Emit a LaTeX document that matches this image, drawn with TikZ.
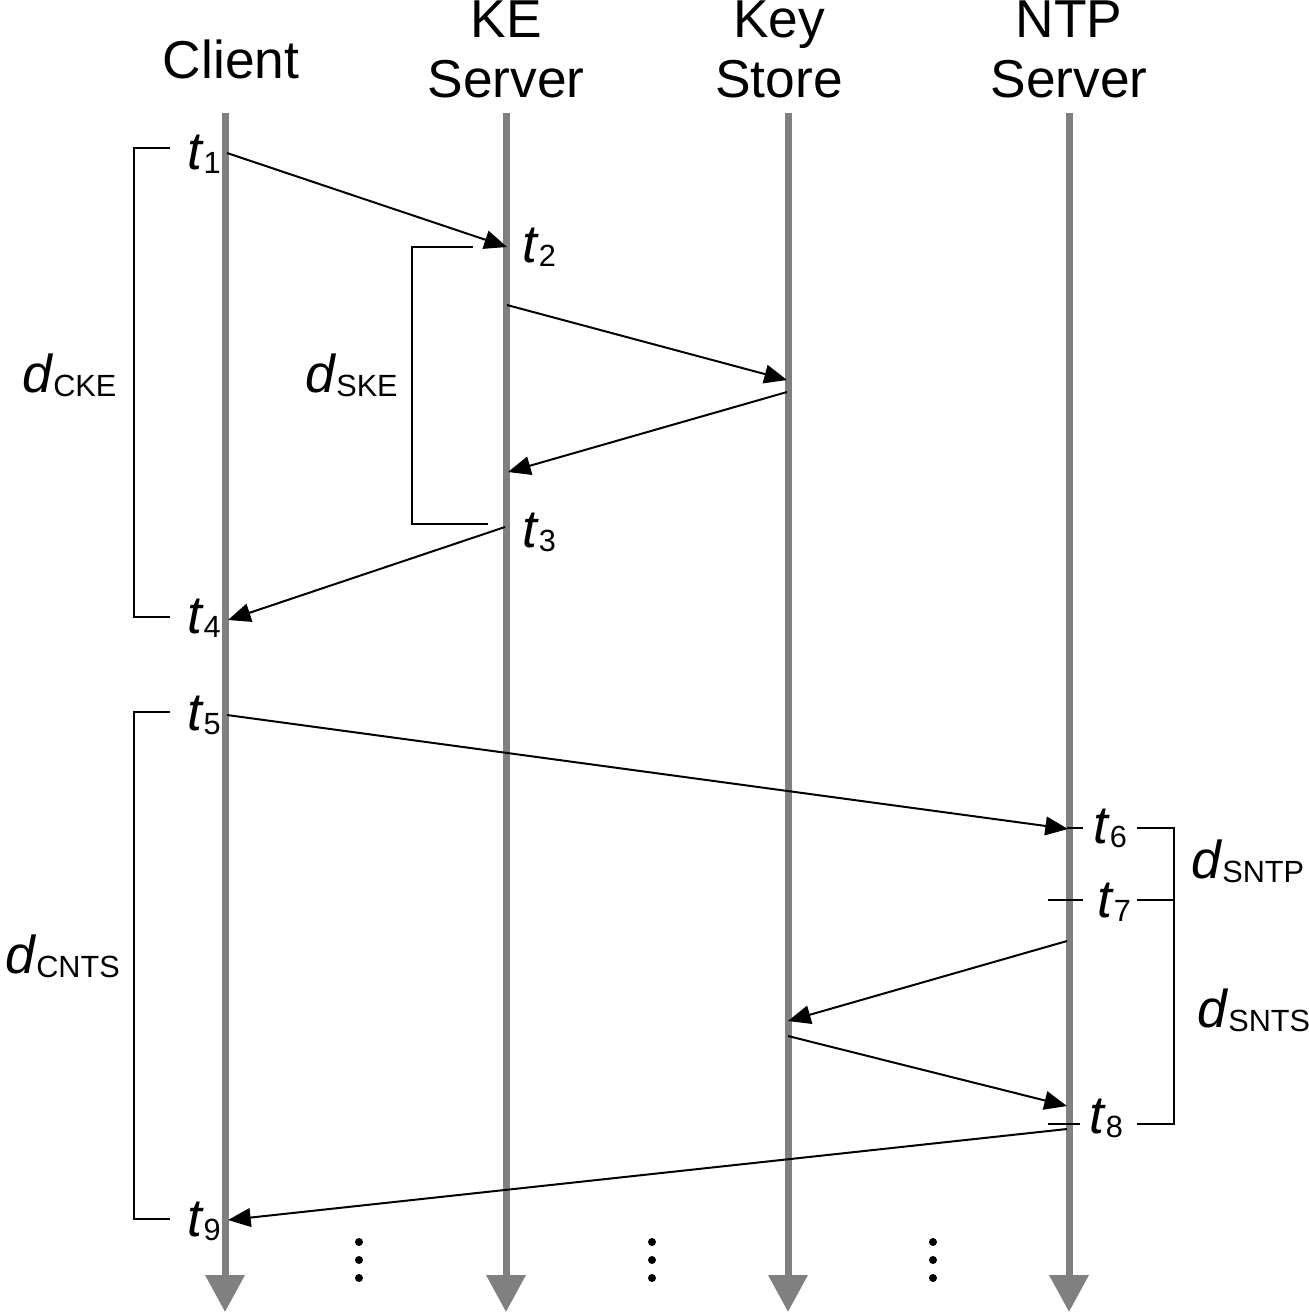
\documentclass[tikz,border=0pt]{standalone}
\usepackage{fontspec}
\setmainfont{Liberation Sans}
\usetikzlibrary{arrows.meta}
\definecolor{lifegray}{RGB}{128,128,128}
\newcommand\lbl[2]{\textit{#1}\raisebox{-3pt}{\fontsize{23}{23}\selectfont #2}}
\begin{document}
\begin{tikzpicture}[x=0.75pt,y=-0.75pt,
  life/.style={draw=lifegray,line width=5.25pt,-{Triangle[length=27.75pt,width=28.5pt,fill=lifegray]}},
  msg/.style={draw=black,line width=1.5pt,-{Triangle[length=17pt,width=14pt]}},
  brk/.style={draw=black,line width=1.5pt},
  hdr/.style={font=\fontsize{40}{45}\selectfont,align=center,inner sep=0pt,anchor=base},
  tlab/.style={font=\fontsize{40}{45}\selectfont,inner sep=0pt},
  dotmark/.style={fill=black}
]
\useasboundingbox (0,0) rectangle (1309,1314);

% headers (base anchor = baseline of last line)
\node[hdr] (hClient) at (231,78) {Client};
\node[hdr] (hKE) at (506,97) {KE\\Server};
\node[hdr] (hKS) at (779,97) {Key\\Store};
\node[hdr] (hNTP) at (1069,97) {NTP\\Server};

% lifelines
\coordinate (cTop) at (225,113);  \coordinate (cBot) at (225,1312);
\coordinate (kTop) at (506,113);  \coordinate (kBot) at (506,1312);
\coordinate (sTop) at (788,113);  \coordinate (sBot) at (788,1312);
\coordinate (nTop) at (1069,113); \coordinate (nBot) at (1069,1312);
\draw[life] (cTop) -- (cBot);
\draw[life] (kTop) -- (kBot);
\draw[life] (sTop) -- (sBot);
\draw[life] (nTop) -- (nBot);

% time labels
\node[tlab,anchor=base east] (t1) at (221,169) {\lbl{t}{1}};
\node[tlab,anchor=base west] (t2) at (522,262) {\lbl{t}{2}};
\node[tlab,anchor=base west] (t3) at (522,547) {\lbl{t}{3}};
\node[tlab,anchor=base east] (t4) at (221,633) {\lbl{t}{4}};
\node[tlab,anchor=base east] (t5) at (221,730) {\lbl{t}{5}};
\node[tlab,anchor=base west] (t6) at (1093,843) {\lbl{t}{6}};
\node[tlab,anchor=base west] (t7) at (1097,917) {\lbl{t}{7}};
\node[tlab,anchor=base west] (t8) at (1089,1133) {\lbl{t}{8}};
\node[tlab,anchor=base east] (t9) at (221,1236) {\lbl{t}{9}};

% duration labels
\node[tlab,anchor=base west] (dCKE) at (22,392) {\lbl{d}{CKE}};
\node[tlab,anchor=base west] (dSKE) at (305,392) {\lbl{d}{SKE}};
\node[tlab,anchor=base west] (dCNTS) at (5,973) {\lbl{d}{CNTS}};
\node[tlab,anchor=base west] (dSNTP) at (1191,878) {\lbl{d}{SNTP}};
\node[tlab,anchor=base west] (dSNTS) at (1197,1027) {\lbl{d}{SNTS}};

% message endpoints
\coordinate (m1s) at (227,153);  \coordinate (m1e) at (507,247);
\coordinate (m2s) at (507,305);  \coordinate (m2e) at (787,380);
\coordinate (m3s) at (787,392);  \coordinate (m3e) at (508,472);
\coordinate (m4s) at (505,527);  \coordinate (m4e) at (228,620);
\coordinate (m5s) at (227,715);  \coordinate (m5e) at (1068,829);
\coordinate (m6s) at (1067,941); \coordinate (m6e) at (788,1021);
\coordinate (m7s) at (788,1036); \coordinate (m7e) at (1067,1106);
\coordinate (m8s) at (1067,1129);\coordinate (m8e) at (228,1220);
\draw[msg] (m1s) -- (m1e);
\draw[msg] (m2s) -- (m2e);
\draw[msg] (m3s) -- (m3e);
\draw[msg] (m4s) -- (m4e);
\draw[msg] (m5s) -- (m5e);
\draw[msg] (m6s) -- (m6e);
\draw[msg] (m7s) -- (m7e);
\draw[msg] (m8s) -- (m8e);

% brackets
\draw[brk] (170,148) -- (134,148) -- (134,617) -- (170,617);
\draw[brk] (473,247) -- (412,247) -- (412,524) -- (488,524);
\draw[brk] (170,712) -- (134,712) -- (134,1219) -- (170,1219);
\draw[brk] (1137,828) -- (1174,828) -- (1174,1124) -- (1137,1124);
\draw[brk] (1137,900) -- (1174,900);
% ticks at NTP line
\draw[brk] (1067,828) -- (1083,828);
\draw[brk] (1048,900) -- (1083,900);
\draw[brk] (1048,1124) -- (1080,1124);

% continuation dots
\foreach \x in {359,652,933}{
  \foreach \y in {1242,1260,1278}{
    \fill[dotmark] (\x,\y) circle (3pt);
  }
}
\end{tikzpicture}
\end{document}
